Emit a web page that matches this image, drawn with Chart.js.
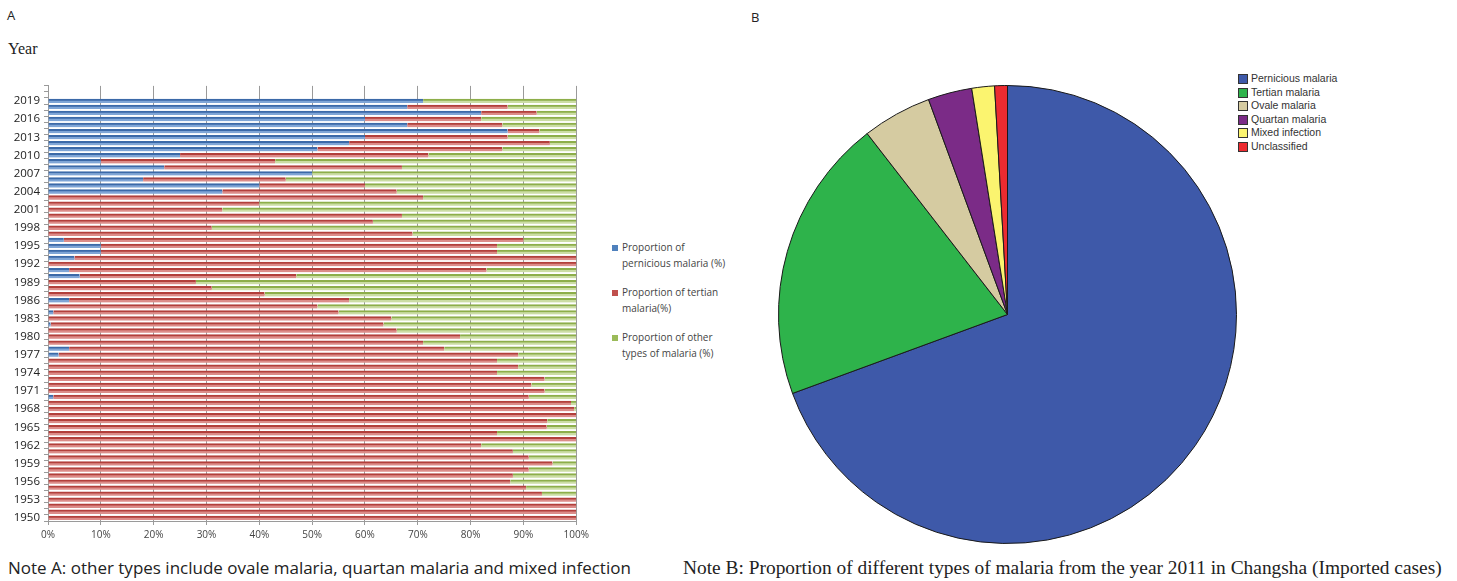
<!DOCTYPE html>
<html>
<head>
<meta charset="utf-8">
<script src="https://cdn.jsdelivr.net/npm/chart.js@4/dist/chart.umd.min.js"></script>
<style>
  body { margin: 0; width: 1457px; height: 581px; background: #fff; position: relative; overflow: hidden; }
  .abs { position: absolute; }
  .panel { font-family: "Open Sans", sans-serif; font-size: 13px; color: #222; }
  .serif { font-family: "Liberation Serif", "Times New Roman", serif; color: #222; }
  .legA { font-family: "Open Sans", sans-serif; font-size: 10px; color: #444; line-height: 16px; }
  .legA .sw { display: inline-block; width: 6px; height: 6px; margin-right: 4px; }
  .legB { font-family: "Liberation Sans", Arial, sans-serif; font-size: 10.5px; color: #333; line-height: 13.6px; }
  .legB .sw { display: inline-block; width: 10px; height: 10px; border: 1px solid #333; margin-right: 3px; vertical-align: -2px; box-sizing: border-box; }
</style>
</head>
<body>
<div class="abs panel" style="left:7px; top:6px;">A</div>
<div class="abs serif" style="left:8px; top:40px; font-size:16px;">Year</div>
<div class="abs panel" style="left:751px; top:8px;">B</div>

<canvas id="barChart" class="abs" style="left:0; top:75px;"></canvas>
<canvas id="pieChart" class="abs" style="left:778px; top:85px;"></canvas>

<div class="abs legA" style="left:612px; top:239px;">
  <div><span class="sw" style="background:#4F81BD"></span>Proportion of<br><span style="padding-left:10px">pernicious malaria (%)</span></div>
  <div style="margin-top:13px"><span class="sw" style="background:#C0504D"></span>Proportion of tertian<br><span style="padding-left:10px">malaria(%)</span></div>
  <div style="margin-top:13px"><span class="sw" style="background:#9BBB59"></span>Proportion of other<br><span style="padding-left:10px">types of malaria (%)</span></div>
</div>

<div id="legendB" class="abs legB" style="left:1238px; top:72px;"></div>

<div class="abs" style="left:8px; top:556px; font-family:'Open Sans', sans-serif; font-size:17px; color:#222;">Note A: other types include ovale malaria, quartan malaria and mixed infection</div>
<div class="abs serif" style="left:683px; top:557px; font-size:19.4px;">Note B: Proportion of different types of malaria from the year 2011 in Changsha (Imported cases)</div>

<script>
// 年份 1950-2019（自下而上）
const years = [];
for (let y = 1950; y <= 2019; y++) years.push(String(y));

// 恶性疟比例 (%)
const pernicious = [
  0, 0, 0, 0, 0, 0, 0, 0, 0, 0,
  0, 0, 0, 0, 0, 0, 0, 0, 0, 0,
  1, 0, 0, 0, 0, 0, 0, 2, 4, 0,
  0, 0, 0.5, 0, 1, 0, 4, 0, 0, 0,
  6, 4, 0, 5, 10, 10, 3, 0, 0, 0,
  0, 0, 0, 0, 33, 40, 18, 50, 22, 10,
  25, 51, 57, 60, 87, 68, 60, 82, 68, 71
];
// 间日疟比例 (%)
const tertian = [
  100, 100, 100, 100, 93.5, 90.5, 87.5, 88, 91, 95.5,
  91, 88, 82, 100, 85, 94.4, 94.5, 100, 99.6, 99,
  90, 94, 91.5, 94, 85, 89, 85, 87, 71, 71,
  78, 66, 63, 65, 54, 51, 53, 41, 31, 28,
  41, 79, 100, 95, 75, 75, 87, 69, 31, 61.5,
  67, 33, 40, 71, 33, 20, 27, 0, 45, 33,
  47, 35, 38, 27, 6, 18, 22, 10.5, 19, 0
];
// 其他类型比例 (%)
const otherTypes = [
  0, 0, 0, 0, 6.5, 9.5, 12.5, 12, 9, 4.5,
  9, 12, 18, 0, 15, 5.6, 5.5, 0, 0.4, 1,
  9, 6, 8.5, 6, 15, 11, 15, 11, 25, 29,
  22, 34, 36.5, 35, 45, 49, 43, 59, 69, 72,
  53, 17, 0, 0, 15, 15, 10, 31, 69, 38.5,
  33, 67, 60, 29, 34, 40, 55, 50, 33, 57,
  28, 14, 5, 13, 7, 14, 18, 7.5, 13, 29
];
// 顶部留白的空类别
const padCategories = ['', ''];
const xTicks = [0, 10, 20, 30, 40, 50, 60, 70, 80, 90, 100];

// 2011 年以来输入病例构成
const pieLabels = ['Pernicious malaria', 'Tertian malaria', 'Ovale malaria', 'Quartan malaria', 'Mixed infection', 'Unclassified'];
const pieValues = [69.4, 20.1, 4.9, 3.1, 1.6, 0.9];
const pieColors = ['#3E59A9', '#2EB34B', '#D5CBA1', '#7B2B87', '#FBF46F', '#EC2B30'];

const barSeries = [
  { label: 'Proportion of pernicious malaria (%)', data: pernicious, fill: '#7FA5D6', line: '#3B69A8' },
  { label: 'Proportion of tertian malaria(%)', data: tertian, fill: '#DC8C89', line: '#B23F3B' },
  { label: 'Proportion of other types of malaria (%)', data: otherTypes, fill: '#CBDDA4', line: '#8DAE4A' }
];

const barCanvas = document.getElementById('barChart');
barCanvas.width = 593;
barCanvas.height = 470;

new Chart(barCanvas, {
  type: 'bar',
  data: {
    labels: years.concat(padCategories),
    datasets: barSeries.map(s => ({
      label: s.label,
      data: s.data,
      backgroundColor: s.fill,
      borderColor: s.line,
      borderWidth: { top: 2, bottom: 0, left: 0, right: 0 },
      borderSkipped: false,
      barThickness: 4
    }))
  },
  options: {
    indexAxis: 'y',
    responsive: false,
    animation: false,
    events: [],
    layout: { padding: { top: 4, right: 0, left: 0, bottom: 0 } },
    plugins: { legend: { display: false }, tooltip: { enabled: false } },
    scales: {
      x: {
        stacked: true,
        min: 0,
        max: 100,
        afterBuildTicks: scale => { scale.ticks = xTicks.map(v => ({ value: v })); },
        afterFit: scale => { scale.height = 24; },
        grid: { color: '#9a9a9a', tickLength: 4, drawTicks: true },
        border: { color: '#9a9a9a' },
        ticks: {
          callback: v => v + '%',
          color: '#444',
          font: { family: 'Open Sans', size: 10 },
          padding: 4,
          maxRotation: 0
        }
      },
      y: {
        stacked: true,
        reverse: true,
        afterFit: scale => { scale.width = 48; },
        grid: { drawOnChartArea: false, tickLength: 4, color: '#9a9a9a' },
        border: { color: '#9a9a9a' },
        ticks: {
          autoSkip: false,
          color: '#222',
          font: { family: 'Open Sans', size: 11.5 },
          padding: 4,
          callback: function (v) {
            const lab = this.getLabelForValue(v);
            if (!lab) return '';
            return (Number(lab) - 1950) % 3 === 0 ? lab : '';
          }
        }
      }
    }
  }
});

const pieCanvas = document.getElementById('pieChart');
pieCanvas.width = 459;
pieCanvas.height = 459;

new Chart(pieCanvas, {
  type: 'pie',
  data: {
    labels: pieLabels,
    datasets: [{
      data: pieValues,
      backgroundColor: pieColors,
      borderColor: '#1a1a1a',
      borderWidth: 1,
      hoverOffset: 0
    }]
  },
  options: {
    responsive: false,
    animation: false,
    events: [],
    layout: { padding: 0 },
    plugins: { legend: { display: false }, tooltip: { enabled: false } }
  }
});

// 饼图图例
document.getElementById('legendB').innerHTML = pieLabels.map((l, i) =>
  '<div><span class="sw" style="background:' + pieColors[i] + '"></span>' + l + '</div>'
).join('');
</script>
</body>
</html>
